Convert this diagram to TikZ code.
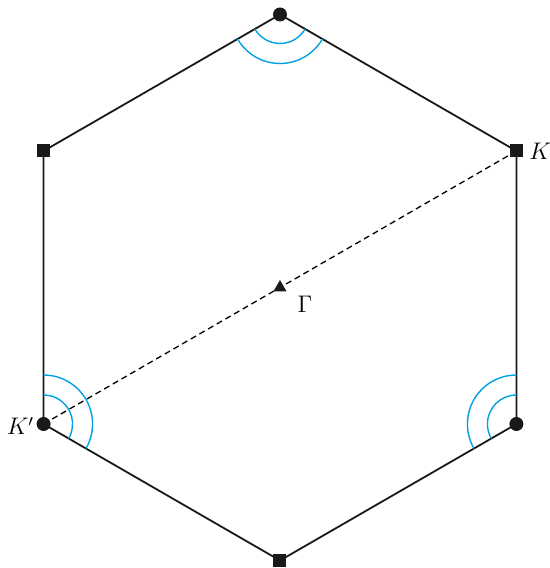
\documentclass[tikz,border=0pt]{standalone}
\usepackage{amsmath,amssymb}
\usepackage{tikz}
\usetikzlibrary{shapes.geometric}
\definecolor{arcblue}{RGB}{0,160,227}

\begin{document}
\begin{tikzpicture}[
    x=0.5pt, y=0.5pt,
    edge/.style={line width=0.9pt, black!90},
    dashline/.style={line width=0.65pt, dash pattern=on 3pt off 2pt},
    anglearc/.style={arcblue, line width=0.7pt},
    dot/.style={circle, fill=black!90, inner sep=0pt, minimum size=7pt},
    sq/.style={rectangle, fill=black!90, inner sep=0pt, minimum size=6.5pt},
    tri/.style={regular polygon, regular polygon sides=3, fill=black!90, inner sep=0pt, minimum size=7.5pt},
    lbl/.style={font=\fontsize{11.5}{14}\selectfont}
]
\useasboundingbox (-280,-280.5) rectangle (270,287.5);

% corners of the zone
\coordinate (top) at (90:273);
\coordinate (K) at (30:273);
\coordinate (right) at (-30:273);
\coordinate (bottom) at (-90:273);
\coordinate (Kp) at (210:273);
\coordinate (left) at (150:273);
\coordinate (G) at (0,0);

\draw[edge] (top) -- (K) -- (right) -- (bottom) -- (Kp) -- (left) -- cycle;
\draw[dashline] (K) -- (Kp);

% angle arcs
\foreach \r in {14.5pt,24.5pt} {
    \draw[anglearc] ([shift={(210:\r)}]top) arc[start angle=210, end angle=330, radius=\r];
    \draw[anglearc] ([shift={(-30:\r)}]Kp) arc[start angle=-30, end angle=90, radius=\r];
    \draw[anglearc] ([shift={(90:\r)}]right) arc[start angle=90, end angle=210, radius=\r];
}

\node[dot] (ntop) at (top) {};
\node[dot] (nright) at (right) {};
\node[dot] (nKp) at (Kp) {};
\node[sq] (nK) at (K) {};
\node[sq] (nleft) at (left) {};
\node[sq] (nbottom) at (bottom) {};
\node[tri] (nG) at (G) {};

\node[lbl, right=-0.5pt] (lK) at (nK.east) {$K$};
\node[lbl, left=-2.5pt] (lKp) at ([yshift=-1pt]nKp.west) {$K'$};
\node[lbl] (lG) at (25,-17) {$\Gamma$};
\end{tikzpicture}
\end{document}
